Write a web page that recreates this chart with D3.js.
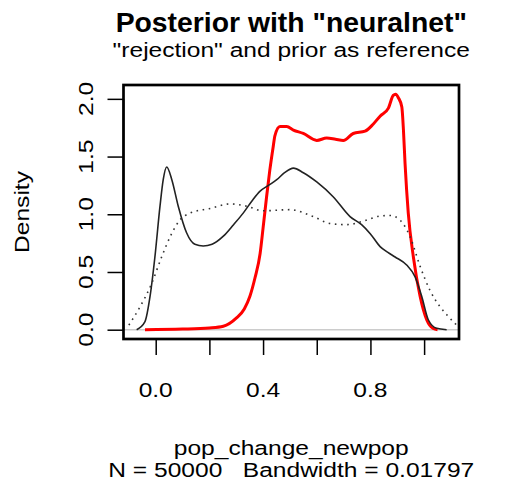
<!DOCTYPE html>
<html>
<head>
<meta charset="utf-8">
<script src="https://cdn.jsdelivr.net/npm/d3@7"></script>
<style>
  body { margin: 0; background: #fff; }
  text { font-family: "Liberation Sans", Arial, sans-serif; fill: #000; white-space: pre; }
</style>
</head>
<body>
<div id="chart"></div>
<script>
// posterior "neuralnet" (red)
var postX = [-0.04, 0.1, 0.2, 0.252, 0.30, 0.33, 0.351, 0.37, 0.389, 0.40, 0.413, 0.425, 0.438, 0.444, 0.463, 0.488, 0.513, 0.55, 0.60, 0.637, 0.67, 0.699, 0.736, 0.78, 0.81, 0.836, 0.867, 0.885, 0.894, 0.904, 0.917, 0.923, 0.929, 0.941, 0.96, 0.985, 1.01, 1.034, 1.05];
var postY = [0, 0.005, 0.015, 0.03, 0.10, 0.18, 0.29, 0.45, 0.66, 0.88, 1.15, 1.38, 1.59, 1.68, 1.76, 1.76, 1.73, 1.70, 1.64, 1.66, 1.65, 1.64, 1.70, 1.72, 1.78, 1.85, 1.92, 2.03, 2.04, 2.01, 1.93, 1.73, 1.44, 1.01, 0.63, 0.29, 0.084, 0.01, 0];
// rejection (black)
var rejX = [-0.071, -0.04, -0.021, -0.003, 0.016, 0.028, 0.041, 0.06, 0.084, 0.115, 0.146, 0.177, 0.21, 0.252, 0.29, 0.326, 0.36, 0.389, 0.42, 0.451, 0.48, 0.513, 0.55, 0.60, 0.662, 0.724, 0.767, 0.80, 0.836, 0.865, 0.892, 0.935, 0.966, 0.991, 1.016, 1.047, 1.084];
var rejY = [0, 0.07, 0.29, 0.63, 1.07, 1.30, 1.41, 1.30, 1.07, 0.84, 0.74, 0.725, 0.74, 0.81, 0.91, 1.01, 1.12, 1.20, 1.25, 1.30, 1.36, 1.40, 1.36, 1.28, 1.15, 0.98, 0.91, 0.83, 0.72, 0.67, 0.63, 0.56, 0.46, 0.29, 0.084, 0.012, 0];
// prior (dotted)
var priorX = [-0.10, -0.058, -0.015, 0.022, 0.06, 0.09, 0.128, 0.202, 0.277, 0.339, 0.40, 0.50, 0.587, 0.649, 0.712, 0.773, 0.836, 0.873, 0.91, 0.947, 0.985, 1.022, 1.059, 1.096, 1.127];
var priorY = [0.04, 0.20, 0.40, 0.63, 0.835, 0.95, 1.01, 1.05, 1.09, 1.07, 1.03, 1.04, 0.98, 0.92, 0.91, 0.94, 0.985, 0.99, 0.95, 0.81, 0.55, 0.34, 0.20, 0.10, 0.026];

var xTicks = [0, 0.2, 0.4, 0.6, 0.8, 1.0];
var xTickLabels = ["0.0", "", "0.4", "", "0.8", ""];
var yTicks = [0, 0.5, 1.0, 1.5, 2.0];
var yTickLabels = ["0.0", "0.5", "1.0", "1.5", "2.0"];

function densityPlot() {
    var width = 508, height = 493;
    var pLeft = 123.5, pRight = 459, pTop = 85, pBottom = 339;
    var stretch = 1.17; // the reference font is wider than Liberation Sans

    var svg = d3.select("#chart")
        .append("svg")
        .attr("width", width)
        .attr("height", height);

    var x = d3.scaleLinear().domain([-0.12, 1.13]).range([pLeft, pRight]);
    var y = d3.scaleLinear().domain([-0.0806, 2.12]).range([pBottom, pTop]);

    function label(txt, tx, ty, size, weight, rot, sx) {
        svg.append("text")
            .attr("transform", "translate(" + tx + "," + ty + ")" + (rot ? " rotate(" + rot + ")" : "") + " scale(" + sx + ",1)")
            .attr("text-anchor", "middle")
            .style("font-size", size + "px")
            .style("font-weight", weight)
            .text(txt);
    }

    svg.append("clipPath").attr("id", "clip")
        .append("rect")
        .attr("x", pLeft).attr("y", pTop)
        .attr("width", pRight - pLeft).attr("height", pBottom - pTop);

    var plot = svg.append("g").attr("clip-path", "url(#clip)");

    // zero line
    plot.append("line")
        .attr("x1", pLeft).attr("x2", pRight)
        .attr("y1", y(0)).attr("y2", y(0))
        .style("stroke", "#cccccc")
        .style("stroke-width", 1.5);

    var line = d3.line()
        .x(function (d) { return x(d[0]); })
        .y(function (d) { return y(d[1]); })
        .curve(d3.curveMonotoneX);

    plot.append("path")
        .attr("d", line(d3.zip(postX, postY)))
        .style("fill", "none")
        .style("stroke", "#ff0000")
        .style("stroke-width", 3);

    plot.append("path")
        .attr("d", line(d3.zip(rejX, rejY)))
        .style("fill", "none")
        .style("stroke", "#222")
        .style("stroke-width", 1.6);

    plot.append("path")
        .attr("d", line(d3.zip(priorX, priorY)))
        .style("fill", "none")
        .style("stroke", "#333")
        .style("stroke-width", 1.6)
        .style("stroke-dasharray", "1.6,4.6");

    // box
    svg.append("rect")
        .attr("x", pLeft).attr("y", pTop)
        .attr("width", pRight - pLeft).attr("height", pBottom - pTop)
        .style("fill", "none")
        .style("stroke", "#000")
        .style("stroke-width", 2.7);

    // axes
    var xAxis = d3.axisBottom(x).tickValues(xTicks).tickSize(16).tickSizeOuter(0).tickFormat("");
    var gx = svg.append("g").attr("transform", "translate(0," + pBottom + ")").call(xAxis);
    gx.select(".domain").attr("d", "M" + x(0) + ",0H" + x(1));
    gx.selectAll("line, path").style("stroke", "#000").style("stroke-width", 1.5);

    var yAxis = d3.axisLeft(y).tickValues(yTicks).tickSize(16).tickSizeOuter(0).tickFormat("");
    var gy = svg.append("g").attr("transform", "translate(" + pLeft + ",0)").call(yAxis);
    gy.select(".domain").attr("d", "M0," + y(0) + "V" + y(2));
    gy.selectAll("line, path").style("stroke", "#000").style("stroke-width", 1.5);

    xTicks.forEach(function (v, i) {
        if (xTickLabels[i]) label(xTickLabels[i], x(v), 396.5, 21, "normal", 0, stretch);
    });
    yTicks.forEach(function (v, i) {
        label(yTickLabels[i], 92.5, y(v), 21, "normal", -90, stretch);
    });

    // titles
    label("Posterior with \"neuralnet\"", (pLeft + pRight) / 2, 31.7, 27, "bold", 0, 1.05);
    label("\"rejection\" and prior as reference", (pLeft + pRight) / 2, 57.3, 21, "normal", 0, stretch);
    label("pop_change_newpop", (pLeft + pRight) / 2, 455, 21, "normal", 0, stretch);
    label("N = 50000   Bandwidth = 0.01797", (pLeft + pRight) / 2, 476.5, 21, "normal", 0, stretch);
    label("Density", 28.5, (pTop + pBottom) / 2, 21, "normal", -90, stretch);
}

densityPlot();
</script>
</body>
</html>
